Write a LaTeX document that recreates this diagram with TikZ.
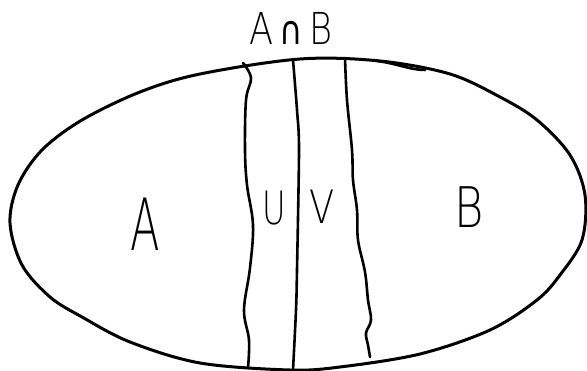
\documentclass[tikz,border=0pt]{standalone}
\usepackage{fontspec}
\newfontfamily\hand{DejaVu Sans ExtraLight}
\newfontfamily\handb{DejaVu Sans}
\usepackage{graphicx}
\tikzset{
  stroke/.style={line width=3pt, line cap=round, line join=round},
  thin stroke/.style={line width=2.6pt, line cap=round, line join=round},
  lbl/.style={inner sep=0pt, font=\hand}
}
\begin{document}
\begin{tikzpicture}[x=1pt,y=-1pt]
\useasboundingbox (0,0) rectangle (587,371);
% outer oval
\draw[stroke] plot[smooth cycle, tension=0.55] coordinates {
 (10,223) (18,185) (42,150) (82,120) (140,92) (200,74) (300,59) (380,61)
 (450,74) (500,97) (537,120) (570,155) (585,195) (582,240) (560,275)
 (537,300) (490,330) (420,354) (340,367) (290,370) (200,363) (130,342)
 (82,317) (50,297) (22,265)};
% small double stroke at top right
\draw[thin stroke] (377,61) .. controls (395,63) and (410,70) .. (425,70);
% left wavy line
\draw[thin stroke] plot[smooth, tension=0.6] coordinates {
 (243,63) (251,78) (246,100) (245,150) (247,185) (253,225) (250,268)
 (244,310) (249,340) (248,368)};
% middle straight line
\draw[thin stroke] plot[smooth] coordinates {
 (293,60) (297,110) (299,150) (297,270) (296,310) (293,370)};
% right wavy line
\draw[thin stroke] plot[smooth, tension=0.6] coordinates {
 (345,58) (347,100) (352,150) (353,180) (357,210) (358,240) (365,272)
 (368,300) (371,320) (366,333) (368,345) (370,357)};
% labels
\node[lbl] (ab) at (291,28) {\scalebox{0.8}[1]{\fontsize{44}{44}\selectfont A\,{\handb\fontsize{40}{40}\selectfont ∩}\,B}};
\node[lbl] (a) at (145,224) {\scalebox{0.6}[1]{\fontsize{72}{72}\selectfont A}};
\node[lbl] (u) at (274,208) {\scalebox{0.7}[1]{\fontsize{46}{46}\selectfont U}};
\node[lbl] (v) at (322,207) {\scalebox{0.8}[1]{\fontsize{46}{46}\selectfont V}};
\node[lbl] (b) at (469,207) {\scalebox{0.8}[1]{\fontsize{56}{56}\selectfont B}};
\end{tikzpicture}
\end{document}
